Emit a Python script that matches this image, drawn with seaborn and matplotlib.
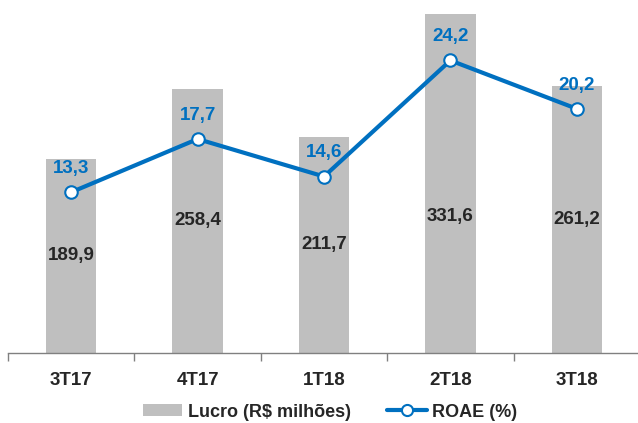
import matplotlib
matplotlib.use("Agg")
import matplotlib.pyplot as plt
from matplotlib.patches import Patch
from matplotlib.lines import Line2D
import seaborn as sns
import numpy as np
import pandas as pd

# data
quarters = ["3T17", "4T17", "1T18", "2T18", "3T18"]
lucro = [189.9, 258.4, 211.7, 331.6, 261.2]
roae = [13.3, 17.7, 14.6, 24.2, 20.2]

gray = "#BFBFBF"
blue = "#0070C0"
dark = "#262626"

sns.set_theme(style="white")
plt.rcParams["font.family"] = ["Liberation Sans", "DejaVu Sans"]

df = pd.DataFrame({"Trimestre": quarters, "Lucro": lucro, "ROAE": roae})
df["pos"] = np.arange(len(df))

fig = plt.figure(figsize=(6.38, 4.23), dpi=100)
ax = fig.add_axes([8 / 638, 70 / 423, 632 / 638, 353 / 423])

sns.barplot(data=df, x="Trimestre", y="Lucro", color=gray, width=0.4,
            saturation=1, ax=ax, edgecolor="none")
ax.set_xlim(-0.5, 4.5)
ax.set_ylim(0, 345.4)
ax.set_ylabel("")
ax.set_xlabel("")
ax.set_yticks([])

for s in ["top", "right", "left"]:
    ax.spines[s].set_visible(False)
ax.spines["bottom"].set_color("#808080")
ax.spines["bottom"].set_linewidth(1)

# boundary ticks + centered labels
ax.set_xticks(np.arange(-0.5, 5, 1))
ax.set_xticklabels([])
ax.tick_params(axis="x", which="major", direction="out", length=6,
               color="#808080", bottom=True, width=1)
ax.set_xticks(df["pos"], minor=True)
ax.set_xticklabels(quarters, minor=True, fontsize=13.5, fontweight="bold",
                   color=dark)
ax.tick_params(axis="x", which="minor", length=0, pad=13.5)

for i, v in enumerate(lucro):
    ax.text(i, min(v / 2, 134), f"{v:.1f}".replace(".", ","), ha="center",
            va="center", fontsize=13.5, fontweight="bold", color=dark)

ax2 = ax.twinx()
sns.lineplot(data=df, x="pos", y="ROAE", color=blue, linewidth=3,
             marker="o", markersize=9, markerfacecolor="white",
             markeredgecolor=blue, markeredgewidth=1.5, ax=ax2)
ax2.set_ylim(0, 29.2)
ax2.set_xlim(-0.5, 4.5)
ax2.set_yticks([])
ax2.set_ylabel("")
ax2.set_xlabel("")
for s in ["top", "right", "left", "bottom"]:
    ax2.spines[s].set_visible(False)

for i, v in enumerate(roae):
    ax2.annotate(f"{v:.1f}".replace(".", ","), (i, v), xytext=(0, 17),
                 textcoords="offset points", ha="center", va="center",
                 fontsize=13.5, fontweight="bold", color=blue)

handles = [
    Patch(facecolor=gray, edgecolor="none"),
    Line2D([], [], color=blue, linewidth=3, marker="o", markersize=8,
           markerfacecolor="white", markeredgecolor=blue, markeredgewidth=1.5),
]
fig.legend(handles, ["Lucro (R$ milhões)", "ROAE (%)"], loc="center",
           bbox_to_anchor=(330 / 638, 11 / 423), ncol=2, frameon=False,
           prop={"size": 13, "weight": "bold"}, handlelength=2.2,
           handleheight=0.6, handletextpad=0.3, columnspacing=2.0,
           labelcolor=dark)

fig.savefig("out.png", dpi=100)
